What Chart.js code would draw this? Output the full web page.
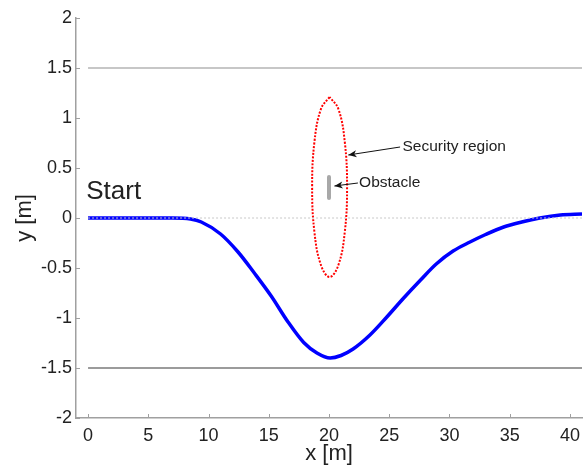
<!DOCTYPE html>
<html lang="en">
<head>
    <meta charset="UTF-8">
    <title>Path around obstacle</title>
    <script src="https://cdn.jsdelivr.net/npm/chart.js"></script>
    <style>
        body { margin: 0; background: #fff; }
        canvas { display: block; }
    </style>
</head>
<body>
    <canvas id="pathChart" width="584" height="465"></canvas>

    <script>
        // Axis ticks
        const xTicks = [0, 5, 10, 15, 20, 25, 30, 35, 40];
        const yTicks = [-2, -1.5, -1, -0.5, 0, 0.5, 1, 1.5, 2];

        // Vehicle path
        const pathX = [0, 2, 4, 6, 7, 8.5, 9.4, 11, 12.45, 13.8, 15.2, 16.6, 17.9, 19, 20.1, 21, 22, 23.4, 24.8, 26.2, 27.6, 28.9, 30.3, 31.7, 33, 34.5, 36, 37.5, 39.2, 41];
        const pathY = [0, 0, 0, 0, 0, -0.01, -0.04, -0.16, -0.34, -0.55, -0.78, -1.04, -1.245, -1.35, -1.4, -1.375, -1.31, -1.17, -0.99, -0.8, -0.62, -0.46, -0.33, -0.24, -0.165, -0.09, -0.04, 0, 0.03, 0.04];

        // Security region outline points
        const regionX = [20.05, 19.33, 18.79, 18.6, 18.79, 19.33, 20.05, 20.78, 21.31, 21.5, 21.31, 20.78, 20.05];
        const regionY = [1.21, 1.09, 0.76, 0.31, -0.14, -0.47, -0.59, -0.47, -0.14, 0.31, 0.76, 1.09, 1.21];

        // Obstacle
        const obstacleX = [20, 20];
        const obstacleY = [0.2, 0.41];

        // Road bounds and centre line
        const boundX = [0, 41];
        const upperBoundY = [1.5, 1.5];
        const lowerBoundY = [-1.5, -1.5];
        const centreY = [0, 0];

        const pts = (xs, ys) => xs.map((x, i) => ({ x: x, y: ys[i] }));

        const labelFont = "'Liberation Sans', Arial, sans-serif";
        const textColor = '#222';
        const axisColor = '#a0a0a0';

        // inward tick marks, arrows and text notes
        const notesPlugin = {
            id: 'notes',
            afterDraw(chart) {
                const c = chart.ctx;
                const xs = chart.scales.x;
                const ys = chart.scales.y;
                const area = chart.chartArea;

                c.save();
                c.strokeStyle = axisColor;
                c.lineWidth = 1;
                xTicks.forEach(v => {
                    const px = Math.round(xs.getPixelForValue(v)) + 0.5;
                    c.beginPath();
                    c.moveTo(px, area.bottom);
                    c.lineTo(px, area.bottom - 4);
                    c.stroke();
                });
                yTicks.forEach(v => {
                    const py = Math.round(ys.getPixelForValue(v)) + 0.5;
                    c.beginPath();
                    c.moveTo(area.left, py);
                    c.lineTo(area.left + 4, py);
                    c.stroke();
                });

                function arrow(x1, y1, x2, y2) {
                    const ax = xs.getPixelForValue(x1), ay = ys.getPixelForValue(y1);
                    const bx = xs.getPixelForValue(x2), by = ys.getPixelForValue(y2);
                    const ang = Math.atan2(by - ay, bx - ax);
                    c.strokeStyle = '#111';
                    c.fillStyle = '#111';
                    c.lineWidth = 1;
                    c.beginPath();
                    c.moveTo(ax, ay);
                    c.lineTo(bx, by);
                    c.stroke();
                    c.beginPath();
                    c.moveTo(bx, by);
                    c.lineTo(bx - 9 * Math.cos(ang - 0.4), by - 9 * Math.sin(ang - 0.4));
                    c.lineTo(bx - 6 * Math.cos(ang), by - 6 * Math.sin(ang));
                    c.lineTo(bx - 9 * Math.cos(ang + 0.4), by - 9 * Math.sin(ang + 0.4));
                    c.closePath();
                    c.fill();
                }

                function note(text, x, y, size, baseline) {
                    c.fillStyle = textColor;
                    c.font = size + 'px ' + labelFont;
                    c.textAlign = 'left';
                    c.textBaseline = baseline;
                    c.fillText(text, xs.getPixelForValue(x), ys.getPixelForValue(y));
                }

                arrow(25.9, 0.71, 21.6, 0.63);
                arrow(22.4, 0.35, 20.45, 0.32);
                note('Security region', 26.1, 0.71, 15.5, 'middle');
                note('Obstacle', 22.5, 0.35, 15.5, 'middle');
                note('Start', -0.15, 0.19, 26, 'alphabetic');
                c.restore();
            }
        };

        const ctx = document.getElementById('pathChart').getContext('2d');
        new Chart(ctx, {
            type: 'line',
            data: {
                datasets: [
                    {
                        data: pts(boundX, centreY),
                        borderColor: '#c8c8c8',
                        borderWidth: 1,
                        borderDash: [2, 2],
                        pointRadius: 0
                    },
                    {
                        data: pts(boundX, upperBoundY),
                        borderColor: '#b4b4b4',
                        borderWidth: 1.5,
                        pointRadius: 0
                    },
                    {
                        data: pts(boundX, lowerBoundY),
                        borderColor: '#7a7a7a',
                        borderWidth: 1.5,
                        pointRadius: 0
                    },
                    {
                        data: pts(obstacleX, obstacleY),
                        borderColor: '#a8a8a8',
                        borderWidth: 4,
                        borderCapStyle: 'round',
                        pointRadius: 0
                    },
                    {
                        data: pts(regionX, regionY),
                        borderColor: '#ff0000',
                        borderWidth: 2,
                        borderDash: [2, 1.5],
                        tension: 0.4,
                        pointRadius: 0
                    },
                    {
                        data: pts(pathX, pathY),
                        borderColor: '#0000ff',
                        borderWidth: 3.5,
                        cubicInterpolationMode: 'monotone',
                        pointRadius: 0
                    }
                ]
            },
            options: {
                responsive: false,
                animation: false,
                devicePixelRatio: 1,
                layout: { padding: { top: 18, right: 2, left: 0, bottom: 0 } },
                plugins: {
                    legend: { display: false },
                    tooltip: { enabled: false }
                },
                scales: {
                    x: {
                        type: 'linear',
                        min: -1,
                        max: 41,
                        afterBuildTicks: s => { s.ticks = xTicks.map(v => ({ value: v })); },
                        afterFit: s => {
                            s.height = 47;
                            s.paddingLeft = 0;
                            s.paddingRight = 0;
                        },
                        grid: { display: false, drawTicks: false },
                        border: { display: true, color: axisColor, width: 1.5 },
                        ticks: {
                            padding: 7,
                            color: textColor,
                            font: { family: labelFont, size: 18 },
                            callback: v => String(v),
                            maxRotation: 0,
                            autoSkip: false
                        },
                        title: {
                            display: true,
                            text: 'x [m]',
                            color: textColor,
                            font: { family: labelFont, size: 22, lineHeight: 1 },
                            padding: 0
                        }
                    },
                    y: {
                        type: 'linear',
                        min: -2,
                        max: 2,
                        afterBuildTicks: s => { s.ticks = yTicks.map(v => ({ value: v })); },
                        afterFit: s => {
                            s.width = 76;
                            s.paddingTop = 0;
                            s.paddingBottom = 0;
                        },
                        grid: { display: false, drawTicks: false },
                        border: { display: true, color: axisColor, width: 1.5 },
                        ticks: {
                            padding: 4,
                            color: textColor,
                            font: { family: labelFont, size: 18 },
                            callback: v => String(v),
                            autoSkip: false
                        },
                        title: {
                            display: true,
                            text: 'y [m]',
                            color: textColor,
                            font: { family: labelFont, size: 22, lineHeight: 1 },
                            padding: { top: 14 }
                        }
                    }
                }
            },
            plugins: [notesPlugin]
        });
    </script>
</body>
</html>
